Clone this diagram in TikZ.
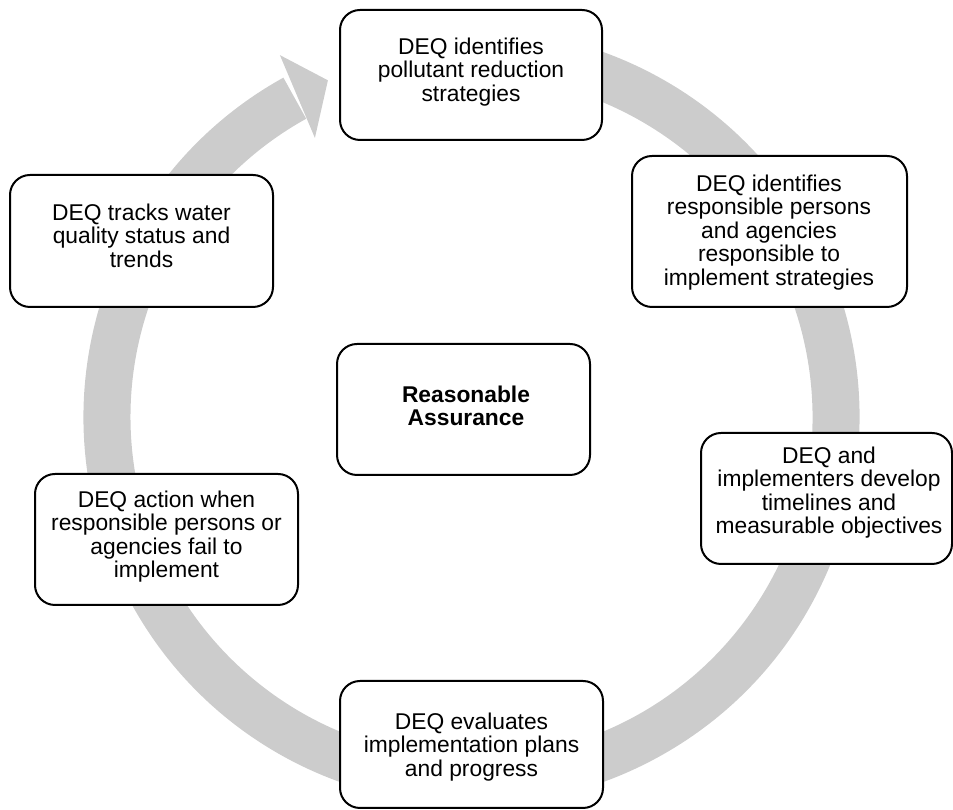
\documentclass[tikz,border=0pt]{standalone}
\usepackage{fontspec}
\setmainfont{Liberation Sans}
\definecolor{ringgray}{HTML}{CCCCCC}
\tikzset{
  cyclebox/.style={draw=black, line width=2pt, fill=white, rounded corners=20pt, inner sep=0pt},
  boxtext/.style={anchor=north, align=center, inner sep=0pt, font=\fontsize{22.8}{23.5}\selectfont},
  ringfill/.style={fill=ringgray, draw=none}
}
\begin{document}
\begin{tikzpicture}[x=1pt,y=1pt]
\useasboundingbox (0,0) rectangle (953,810);
% cycle ring with arrow head
\begin{scope}[shift={(471.5,393)}]
  \fill[ringfill] (119:388) arc[start angle=119, end angle=460, radius=388]
     -- (460:341) arc[start angle=460, end angle=119, radius=341] -- cycle;
  \fill[ringfill] (117.9:409.5) -- (113.1:366) -- (119.3:320) -- cycle;
\end{scope}
% boxes
\node[cyclebox, minimum width=262pt, minimum height=130pt] (b1) at (471,735) {};
\node[cyclebox, minimum width=275pt, minimum height=151pt] (b2) at (769.5,578.5) {};
\node[cyclebox, minimum width=251pt, minimum height=131pt] (b3) at (826.5,311.5) {};
\node[cyclebox, minimum width=263pt, minimum height=127pt] (b4) at (471.5,65.5) {};
\node[cyclebox, minimum width=263pt, minimum height=131pt] (b5) at (166.5,270.5) {};
\node[cyclebox, minimum width=263pt, minimum height=132pt] (b6) at (141.5,569) {};
\node[cyclebox, minimum width=253pt, minimum height=131pt] (bc) at (463.5,400.5) {};
% texts
\node[boxtext] (t1) at (471,773) {\rule{0pt}{17pt}DEQ identifies\\pollutant reduction\\strategies};
\node[boxtext] (t2) at (769,636) {\rule{0pt}{17pt}DEQ identifies\\responsible persons\\and agencies\\responsible to\\implement strategies};
\node[boxtext] (t3) at (829,364) {\rule{0pt}{17pt}DEQ and\\implementers develop\\timelines and\\measurable objectives};
\node[boxtext] (t4) at (471.5,98) {\rule{0pt}{17pt}DEQ evaluates\\implementation plans\\and progress};
\node[boxtext] (t5) at (166.5,320) {\rule{0pt}{17pt}DEQ action when\\responsible persons or\\agencies fail to\\implement};
\node[boxtext] (t6) at (141.5,607) {\rule{0pt}{17pt}DEQ tracks water\\quality status and\\trends};
\node[boxtext, font=\fontsize{22.8}{23.5}\selectfont\bfseries] (tc) at (466,425) {\rule{0pt}{17pt}Reasonable\\Assurance};
\end{tikzpicture}
\end{document}
